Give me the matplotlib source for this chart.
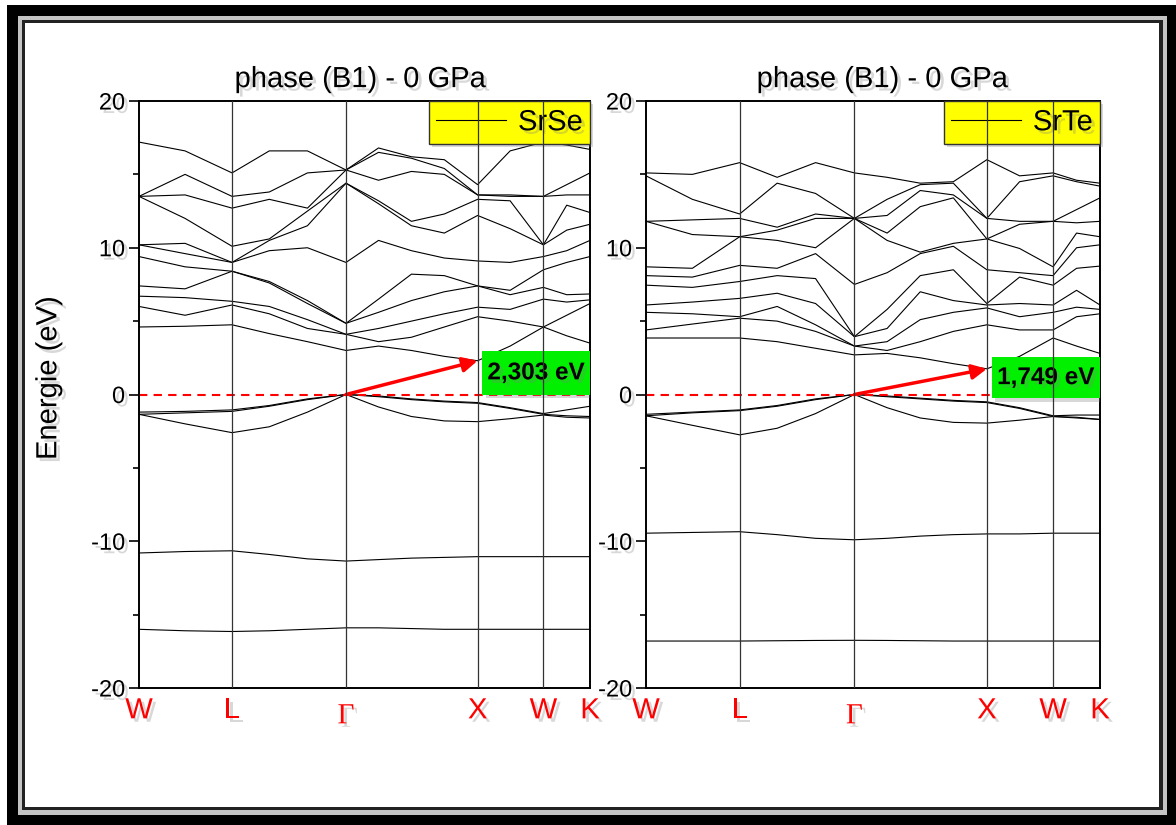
import matplotlib
matplotlib.use('Agg')
import matplotlib.pyplot as plt
import matplotlib.patheffects as pe
from matplotlib.patches import Rectangle
from matplotlib.ticker import MultipleLocator
from matplotlib.transforms import ScaledTranslation

plt.rcParams['font.family'] = ['Liberation Sans', 'DejaVu Sans']
plt.rcParams['axes.unicode_minus'] = False

# k-path W-L-G-X-W-K (units of 2pi/a), corners plus a few points in between
k_path = [0.0, 0.35, 0.707, 0.99, 1.28, 1.573, 1.82, 2.07, 2.32, 2.573, 2.82, 3.073, 3.25, 3.427]
k_ticks = [0.0, 0.707, 1.573, 2.573, 3.073, 3.427]
k_labels = ['W', 'L', 'Γ', 'X', 'W', 'K']

compounds = ['SrSe', 'SrTe']
titles = ['phase (B1) - 0 GPa', 'phase (B1) - 0 GPa']
gaps = [2.303, 1.749]
gap_labels = ['2,303 eV', '1,749 eV']

# energies (eV) along k_path, one row per band
srse_bands = [
    [-16.0, -16.1, -16.15, -16.1, -16.0, -15.9, -15.9, -15.95, -16.0, -16.0, -16.0, -16.0, -16.0, -16.0],
    [-10.8, -10.7, -10.65, -10.9, -11.2, -11.35, -11.25, -11.15, -11.1, -11.05, -11.05, -11.05, -11.05, -11.05],
    [-1.35, -2.0, -2.6, -2.2, -1.2, 0.0, -0.85, -1.5, -1.8, -1.85, -1.65, -1.4, -1.55, -1.6],
    [-1.35, -1.25, -1.15, -0.8, -0.35, 0.0, -0.15, -0.35, -0.5, -0.6, -0.95, -1.35, -1.45, -1.5],
    [-1.2, -1.15, -1.05, -0.75, -0.3, 0.0, -0.1, -0.3, -0.45, -0.55, -0.9, -1.3, -1.05, -0.8],
    [4.6, 4.65, 4.75, 4.15, 3.6, 3.0, 3.3, 3.0, 2.6, 2.3, 3.3, 4.6, 4.0, 3.5],
    [6.0, 5.4, 6.1, 5.5, 4.5, 4.1, 3.6, 3.9, 4.6, 5.3, 5.0, 4.6, 5.4, 6.2],
    [6.7, 6.6, 6.35, 6.0, 5.1, 4.1, 4.5, 5.0, 5.5, 5.95, 5.8, 6.5, 6.3, 6.45],
    [7.4, 7.2, 8.4, 7.6, 6.2, 4.85, 5.6, 6.4, 7.0, 7.4, 6.8, 7.3, 6.8, 6.85],
    [9.4, 8.7, 8.4, 7.7, 6.4, 4.85, 6.5, 8.2, 8.1, 7.4, 7.1, 8.5, 9.0, 9.4],
    [10.2, 9.6, 9.0, 9.8, 10.0, 9.0, 10.5, 9.8, 9.3, 9.1, 9.0, 9.4, 9.8, 10.5],
    [10.2, 10.3, 9.0, 10.5, 11.5, 14.4, 13.0, 11.5, 11.0, 12.2, 11.3, 10.2, 11.2, 11.6],
    [13.5, 12.0, 10.1, 10.6, 12.5, 14.4, 13.2, 11.8, 12.3, 13.3, 13.2, 10.2, 12.9, 12.4],
    [13.5, 13.6, 12.7, 13.3, 12.7, 15.3, 14.6, 15.2, 15.0, 13.6, 13.5, 13.5, 13.6, 13.6],
    [13.5, 15.0, 13.5, 13.8, 15.1, 15.3, 16.5, 16.1, 15.4, 13.6, 13.6, 13.5, 14.3, 15.1],
    [17.2, 16.6, 15.1, 16.6, 16.6, 15.3, 16.8, 16.2, 16.0, 14.3, 16.6, 17.2, 17.0, 16.7],
]

srte_bands = [
    [-16.8, -16.8, -16.8, -16.78, -16.76, -16.75, -16.76, -16.78, -16.8, -16.8, -16.8, -16.8, -16.8, -16.8],
    [-9.45, -9.4, -9.35, -9.55, -9.8, -9.9, -9.8, -9.65, -9.55, -9.5, -9.5, -9.45, -9.45, -9.45],
    [-1.45, -2.1, -2.75, -2.3, -1.3, 0.0, -0.9, -1.6, -1.9, -1.95, -1.75, -1.5, -1.6, -1.7],
    [-1.45, -1.25, -1.1, -0.8, -0.35, 0.0, -0.15, -0.3, -0.45, -0.55, -0.95, -1.5, -1.55, -1.7],
    [-1.35, -1.2, -1.05, -0.75, -0.3, 0.0, -0.1, -0.25, -0.4, -0.5, -0.9, -1.45, -1.4, -1.4],
    [3.85, 3.85, 3.85, 3.6, 3.15, 2.7, 2.8, 2.5, 2.1, 1.75, 2.6, 3.85, 3.3, 2.8],
    [4.4, 4.8, 5.2, 5.0, 4.3, 3.3, 3.0, 3.6, 4.3, 4.75, 4.4, 4.4, 5.3, 5.5],
    [5.6, 5.5, 5.3, 6.0, 4.75, 3.3, 3.6, 5.1, 5.6, 5.9, 5.3, 5.6, 5.95, 5.8],
    [6.1, 6.3, 6.55, 6.9, 6.2, 3.94, 4.5, 7.0, 6.4, 6.1, 6.2, 6.1, 7.1, 6.1],
    [7.45, 7.3, 7.7, 8.1, 7.9, 3.94, 5.8, 8.1, 8.5, 6.2, 8.0, 7.45, 8.6, 8.75],
    [8.1, 8.0, 8.8, 8.6, 9.6, 7.5, 8.3, 9.6, 10.1, 8.5, 8.3, 8.1, 10.0, 10.2],
    [8.7, 8.6, 10.75, 10.5, 10.0, 12.0, 10.5, 9.7, 10.3, 10.6, 9.95, 8.7, 11.0, 10.75],
    [11.8, 10.9, 10.75, 11.2, 12.0, 12.0, 11.0, 12.8, 13.4, 10.6, 11.6, 11.8, 11.7, 11.8],
    [11.8, 11.9, 12.0, 11.4, 12.3, 12.0, 12.2, 13.9, 13.6, 12.0, 11.8, 11.8, 12.6, 13.4],
    [14.9, 13.3, 12.3, 14.4, 13.7, 12.0, 13.3, 14.3, 14.4, 12.0, 14.5, 14.9, 14.5, 14.2],
    [15.1, 15.0, 15.8, 14.8, 15.8, 15.1, 14.8, 14.4, 14.5, 16.0, 14.9, 15.1, 14.6, 14.4],
]

all_bands = [srse_bands, srte_bands]
title_x = [0.49, 0.52]
box_bottom = [0.0, -0.25]
box_height = [2.95, 2.8]

W, H = 1176, 825
fig = plt.figure(figsize=(W / 100, H / 100), dpi=100)

# picture frame: black band, grey gap, thin dark line, white inside
for (x0, y0, x1, y1), col in [((7, 5, 1180, 830), 'black'),
                              ((18, 16, 1167, 815), '#c4c4c4'),
                              ((22, 20, 1163, 810), '#222222'),
                              ((25, 23, 1159, 807), 'white')]:
    fig.add_artist(Rectangle((x0 / W, 1 - y1 / H), (x1 - x0) / W, (y1 - y0) / H,
                             transform=fig.transFigure, facecolor=col,
                             edgecolor='none', zorder=-10))

shadow = [pe.withSimplePatchShadow(offset=(2.5, -2.5), shadow_rgbFace='0.5', alpha=0.3)]

axes_px = [(139, 590), (646, 1100)]
for i, (x0, x1) in enumerate(axes_px):
    ax = fig.add_axes([x0 / W, 1 - 688 / H, (x1 - x0) / W, 587 / H])
    ax.set_facecolor('none')
    bands = all_bands[i]

    for j, band in enumerate(bands):
        ax.plot(k_path, band, color='black', lw=0.8, zorder=2,
                label=compounds[i] if j == 0 else None)

    for kt in k_ticks[1:-1]:
        ax.axvline(kt, color='#333333', lw=0.9, zorder=6)

    ax.axhline(0, color='red', lw=1.5, ls=(0, (4, 3)), zorder=2.5)

    # band gap: arrow from the VBM at Gamma to the CBM at X
    ax.annotate('', xy=(k_ticks[3], gaps[i]), xytext=(k_ticks[2], 0),
                arrowprops=dict(arrowstyle='-|>', color='red', lw=2.5,
                                mutation_scale=22, shrinkA=0, shrinkB=0),
                zorder=4)
    box_x0 = k_ticks[3] + 0.035
    box = Rectangle((box_x0, box_bottom[i]), k_ticks[-1] - box_x0, box_height[i],
                    facecolor='#00f000', edgecolor='none', zorder=3)
    box.set_path_effects(shadow)
    ax.add_patch(box)
    ax.text((box_x0 + k_ticks[-1]) / 2, box_bottom[i] + box_height[i] / 2, gap_labels[i],
            ha='center', va='center', fontsize=17.5, fontweight='bold', zorder=5,
            path_effects=shadow)

    ax.set_xlim(k_ticks[0], k_ticks[-1])
    ax.set_ylim(-20, 20)
    ax.set_yticks([-20, -10, 0, 10, 20])
    ax.yaxis.set_minor_locator(MultipleLocator(5))
    ax.tick_params(axis='y', which='major', length=7, width=1.2, labelsize=17, pad=3)
    ax.tick_params(axis='y', which='minor', length=4, width=1.2)
    ax.set_xticks(k_ticks)
    ax.set_xticklabels(k_labels)
    ax.tick_params(axis='x', length=0, labelsize=21, labelcolor='red', pad=6)
    gamma = ax.get_xticklabels()[2]
    gamma.set_fontfamily(['Liberation Serif', 'DejaVu Serif'])
    gamma.set_transform(gamma.get_transform() + ScaledTranslation(0, -0.07, fig.dpi_scale_trans))
    for lab in ax.get_xticklabels() + ax.get_yticklabels():
        lab.set_path_effects(shadow)
    for sp in ax.spines.values():
        sp.set_linewidth(1.4)

    t = ax.set_title(titles[i], fontsize=21, pad=10, x=title_x[i])
    t.set_path_effects(shadow)

    leg = ax.legend(loc='upper right', borderaxespad=0, fontsize=21, fancybox=False,
                    framealpha=1, facecolor='#ffff00', edgecolor='#333333',
                    handlelength=2.4, handletextpad=0.4, borderpad=0.25)
    leg.set_zorder(3)
    leg.get_frame().set_path_effects(shadow)
    for txt in leg.get_texts():
        txt.set_path_effects(shadow)

    if i == 0:
        yl = ax.set_ylabel('Energie (eV)', fontsize=21)
        ax.yaxis.set_label_coords(-0.17, 0.528)
        yl.set_path_effects(shadow)

fig.savefig('out.png', dpi=100)
